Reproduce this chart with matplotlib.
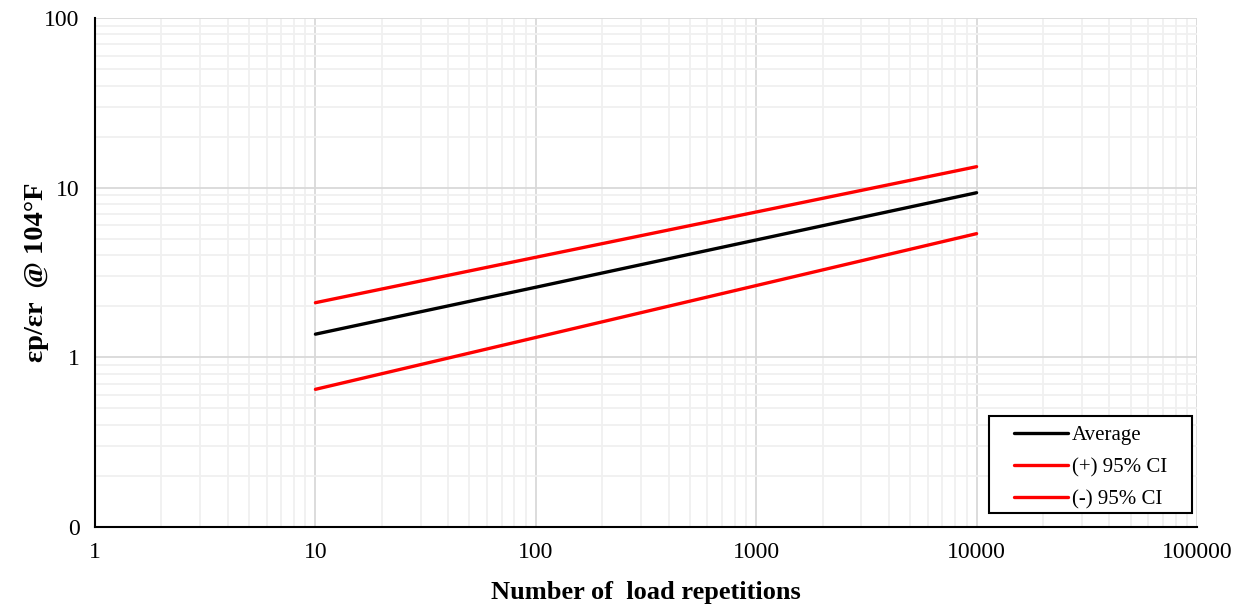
import matplotlib.pyplot as plt
from matplotlib.patches import Rectangle
from matplotlib.ticker import FixedLocator, FixedFormatter, LogLocator, NullFormatter

plt.rcParams['font.family'] = ['Liberation Serif', 'DejaVu Serif']

repetitions = [10, 100, 1000, 10000]
average = [1.37, 2.59, 4.92, 9.34]
upper_ci = [2.10, 3.89, 7.19, 13.3]
lower_ci = [0.648, 1.31, 2.65, 5.36]

x_ticks = [1, 10, 100, 1000, 10000, 100000]
y_ticks = [0.1, 1, 10, 100]
y_tick_labels = ['0', '1', '10', '100']

fig = plt.figure(figsize=(12.44, 6.09), dpi=100)
ax = fig.add_axes([0.0764, 0.1346, 0.8858, 0.8358])

ax.plot(repetitions, average, color='black', lw=2.4, label='Average', solid_capstyle='round')
ax.plot(repetitions, upper_ci, color='#ff0000', lw=2.4, label='(+) 95% CI', solid_capstyle='round')
ax.plot(repetitions, lower_ci, color='#ff0000', lw=2.4, label='(-) 95% CI', solid_capstyle='round')

ax.set_xscale('log')
ax.set_yscale('log')
ax.set_xlim(1, 100000)
ax.set_ylim(0.1, 100)

ax.xaxis.set_major_locator(FixedLocator(x_ticks))
ax.xaxis.set_major_formatter(FixedFormatter([str(v) for v in x_ticks]))
ax.yaxis.set_major_locator(FixedLocator(y_ticks))
ax.yaxis.set_major_formatter(FixedFormatter(y_tick_labels))
ax.xaxis.set_minor_locator(LogLocator(base=10, subs=range(2, 10), numticks=20))
ax.yaxis.set_minor_locator(LogLocator(base=10, subs=range(2, 10), numticks=20))
ax.xaxis.set_minor_formatter(NullFormatter())
ax.yaxis.set_minor_formatter(NullFormatter())

ax.grid(which='major', color='#d9d9d9', lw=1.3)
ax.grid(which='minor', color='#f0f0f0', lw=1.3)
ax.set_axisbelow(True)

ax.tick_params(which='both', length=0, labelsize=17)
ax.tick_params(axis='x', pad=11)
ax.tick_params(axis='y', pad=11)

for s in ['top', 'right']:
    ax.spines[s].set_visible(False)
for s in ['left', 'bottom']:
    ax.spines[s].set_linewidth(1.5)
    ax.spines[s].set_color('black')

ax.set_xlabel('Number of  load repetitions', fontsize=19, fontweight='bold')
ax.xaxis.set_label_coords(0.5, -0.128)
ax.xaxis.label.set_va('center')
ax.set_ylabel('εp/εr  @ 104°F', fontsize=20.5, fontweight='bold')
ax.yaxis.set_label_coords(-0.0535, 0.5)
ax.yaxis.label.set_va('center')

# legend box drawn by hand, legend itself without frame
ax.add_patch(Rectangle((0.811, 0.0275), 0.1845, 0.1905, transform=ax.transAxes,
                       facecolor='white', edgecolor='black', lw=1.5, zorder=4))
leg = ax.legend(loc='center', bbox_to_anchor=(0.9032, 0.117), fontsize=15,
                frameon=False, handlelength=2.6, handletextpad=0.2,
                borderpad=0, labelspacing=0.6)
leg.set_zorder(5)

fig.savefig('out.png', dpi=100)
